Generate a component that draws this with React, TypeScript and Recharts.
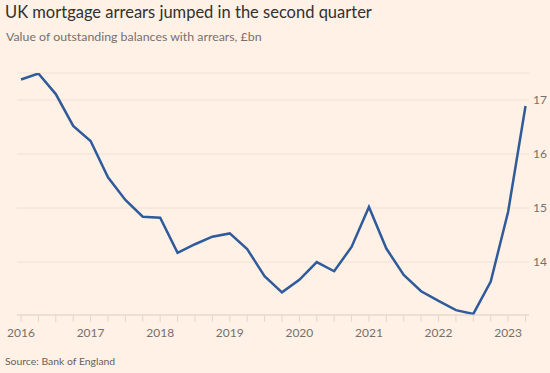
import React from "react";
import { LineChart, Line, XAxis, YAxis, CartesianGrid } from "recharts";

const quarters = [
  "2016 Q1", "2016 Q2", "2016 Q3", "2016 Q4",
  "2017 Q1", "2017 Q2", "2017 Q3", "2017 Q4",
  "2018 Q1", "2018 Q2", "2018 Q3", "2018 Q4",
  "2019 Q1", "2019 Q2", "2019 Q3", "2019 Q4",
  "2020 Q1", "2020 Q2", "2020 Q3", "2020 Q4",
  "2021 Q1", "2021 Q2", "2021 Q3", "2021 Q4",
  "2022 Q1", "2022 Q2", "2022 Q3", "2022 Q4",
  "2023 Q1", "2023 Q2",
];

const arrears = [
  17.38, 17.49, 17.11, 16.52,
  16.24, 15.57, 15.15, 14.84,
  14.82, 14.17, 14.33, 14.47,
  14.53, 14.24, 13.74, 13.44,
  13.67, 14.0, 13.83, 14.28,
  15.02, 14.25, 13.76, 13.46,
  13.28, 13.11, 13.04, 13.64,
  14.93, 16.89,
];

const yTicks = [14, 15, 16, 17];
const yearLabels = ["2016", "2017", "2018", "2019", "2020", "2021", "2022", "2023"];

const data = quarters.map((q, i) => ({ i, q, v: arrears[i] }));
const xTicks = quarters.map((_, i) => i);

const FONT = "Lato, 'Open Sans', sans-serif";

export default function App() {
  return (
    <div
      style={{
        position: "absolute",
        left: 0,
        top: 0,
        width: 550,
        height: 373,
        background: "#FFF1E5",
        fontFamily: FONT,
        overflow: "hidden",
      }}
    >
      <div
        style={{
          position: "absolute",
          left: 5,
          top: 2,
          fontSize: 16.5,
          color: "#33302E",
          whiteSpace: "nowrap",
        }}
      >
        UK mortgage arrears jumped in the second quarter
      </div>
      <div
        style={{
          position: "absolute",
          left: 6,
          top: 29,
          fontSize: 12.35,
          color: "#76706B",
          whiteSpace: "nowrap",
        }}
      >
        Value of outstanding balances with arrears, £bn
      </div>
      <div
        style={{
          position: "absolute",
          left: 5,
          top: 355,
          fontSize: 10.4,
          color: "#66605C",
          whiteSpace: "nowrap",
        }}
      >
        Source: Bank of England
      </div>
      <div style={{ position: "absolute", left: 0, top: 0 }}>
        <LineChart
          width={550}
          height={373}
          data={data}
          margin={{ top: 73, right: 0, bottom: 28, left: 17 }}
        >
          <CartesianGrid vertical={false} stroke="#EDE1D7" strokeWidth={1} />
          <XAxis
            dataKey="i"
            type="number"
            domain={[-0.23, 29.2]}
            ticks={xTicks}
            interval={0}
            height={30}
            tickFormatter={(v: number) => (v % 4 === 0 ? yearLabels[v / 4] : "")}
            axisLine={{ stroke: "#E3D6CB" }}
            tickLine={{ stroke: "#E3D6CB" }}
            tickSize={7}
            tickMargin={6}
            tick={{ fill: "#76706B", fontSize: 12, fontFamily: FONT }}
          />
          <YAxis
            orientation="right"
            width={21}
            domain={[13.02, 17.5]}
            ticks={yTicks}
            axisLine={false}
            tickLine={false}
            tickSize={0}
            tickMargin={4}
            tick={{ fill: "#76706B", fontSize: 12, fontFamily: FONT, textAnchor: "start" }}
            allowDataOverflow
          />
          <Line
            dataKey="v"
            type="linear"
            stroke="#2F5B9B"
            strokeWidth={2.5}
            dot={false}
            isAnimationActive={false}
          />
        </LineChart>
      </div>
    </div>
  );
}
